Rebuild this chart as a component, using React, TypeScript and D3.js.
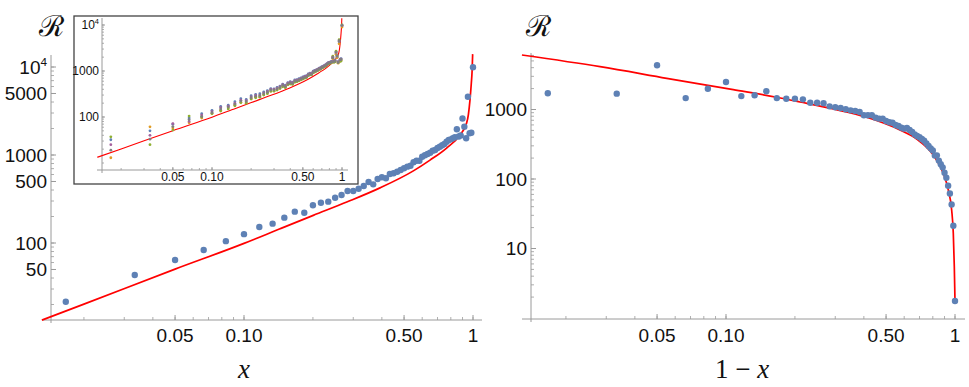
import React from "react";
import * as d3 from "d3";

const W = 969;
const H = 387;

// sample grid: x = k/60
const gridN = 60;
const xGrid = d3.range(1, gridN + 1).map((k) => k / gridN);

// left panel: R against x
const leftPoints = [
  21.5, 43.3, 64.1, 83.3, 105, 126, 152, 166, 194, 227, 221, 268, 287, 295, 327,
  351, 390, 390, 414, 444, 493, 464, 533, 558, 544, 608, 620, 646, 676, 706, 737,
  756, 826, 861, 861, 957, 993, 1026, 1062, 1119, 1140, 1201, 1243, 1290, 1334,
  1417, 1480, 1507, 1548, 1590, 1960, 1620, 1670, 2600, 2100, 1549, 4600, 1766,
  1790, 9940,
];

// right panel: R against 1 - x
const rightPoints = [
  1710, 1690, 4330, 1460, 1990, 2490, 1560, 1600, 1830, 1460, 1430, 1430, 1400,
  1250, 1250, 1230, 1110, 1080, 1050, 1010, 973, 951, 920, 825, 825, 825, 763,
  738, 738, 683, 654, 646, 598, 579, 548, 530, 542, 507, 474, 439, 416, 398, 376,
  356, 326, 298, 276, 258, 217, 219, 184, 163, 147, 123, 104, 80, 62, 43, 21.3,
  1.76,
];

// red theory curves
const leftCurveX = [0.0131, 0.02, 0.05, 0.1, 0.1436, 0.2007, 0.281, 0.3926, 0.549, 0.649, 0.767, 0.877, 0.938, 0.955, 0.97, 0.983, 0.991, 0.9966];
const leftCurveR = [13.3, 20.2, 50.5, 99, 145, 206, 292, 423, 660, 875, 1200, 1690, 2310, 2900, 4200, 6500, 9000, 14000];
const rightCurveU = [0.01285, 0.0282, 0.0551, 0.1076, 0.1665, 0.2105, 0.294, 0.4113, 0.575, 0.68, 0.804, 0.889, 0.935, 0.967, 0.983, 0.993, 1];
const rightCurveR = [6080, 4130, 2810, 1928, 1500, 1282, 1016, 773, 507, 376, 221, 121, 69.5, 35.8, 16.6, 5.5, 1.76];

// inset: individual runs
const insetSeries = [
  [32, 50, 70, 95, 118, 140, 170, 180, 215, 250, 240, 290, 310, 320, 350, 375, 415, 410, 440, 470, 520, 490, 560, 585, 570, 640, 650, 680, 705, 740, 770, 790, 860, 895, 890, 990, 1030, 1060, 1100, 1150, 1180, 1240, 1280, 1330, 1370, 1450, 1510, 1540, 1580, 1620, 1900, 1680, 1720, 2400, 2000, 1600, 4300, 1700, 1850, 9500],
  [13, 61, 58, 75, 95, 120, 140, 158, 180, 210, 205, 250, 270, 280, 310, 335, 370, 372, 395, 425, 470, 445, 510, 535, 520, 585, 595, 620, 650, 680, 710, 730, 800, 830, 835, 925, 960, 995, 1030, 1085, 1105, 1165, 1205, 1250, 1295, 1375, 1440, 1465, 1505, 1545, 1850, 1560, 1600, 2300, 1950, 1480, 3900, 1650, 1700, 9000],
  [37, 25, 52, 105, 100, 118, 135, 150, 175, 205, 200, 245, 262, 270, 300, 322, 360, 365, 385, 415, 455, 435, 500, 520, 510, 570, 585, 610, 640, 670, 700, 720, 790, 820, 825, 915, 950, 985, 1020, 1075, 1095, 1155, 1195, 1240, 1285, 1365, 1425, 1450, 1490, 1530, 2100, 1550, 1580, 2700, 2200, 1520, 4800, 1620, 1650, 10000],
  [25, 40, 72, 80, 110, 130, 160, 172, 200, 232, 228, 275, 295, 300, 335, 360, 400, 398, 425, 455, 505, 475, 545, 570, 555, 620, 632, 658, 690, 720, 750, 770, 840, 875, 875, 970, 1010, 1040, 1080, 1135, 1160, 1220, 1260, 1310, 1355, 1435, 1500, 1525, 1565, 1605, 2000, 1640, 1690, 2550, 2150, 1570, 4500, 1800, 1820, 9800],
  [19, 33, 62, 88, 102, 124, 150, 164, 190, 222, 218, 262, 282, 290, 322, 345, 385, 385, 408, 438, 485, 458, 525, 550, 537, 600, 612, 638, 668, 698, 728, 748, 818, 852, 852, 948, 984, 1016, 1052, 1108, 1130, 1190, 1232, 1278, 1322, 1405, 1468, 1495, 1535, 1578, 1940, 1605, 1655, 2580, 2080, 1535, 4550, 1750, 1780, 9900],
];
const insetColors = ["#5E81B5", "#E19C24", "#8FB032", "#A5609D", "#7F7F7F"];

// ticks
const xTickValues = [0.05, 0.1, 0.5, 1];
const xTickLabels = ["0.05", "0.10", "0.50", "1"];
const leftYTickValues = [50, 100, 500, 1000, 5000, 10000];
const leftYTickLabels = ["50", "100", "500", "1000", "5000", "10^4"];
const rightYTickValues = [10, 100, 1000];
const rightYTickLabels = ["10", "100", "1000"];
const insetYTickValues = [100, 1000, 10000];
const insetYTickLabels = ["100", "1000", "10^4"];

const leftX = d3.scaleLog().domain([0.01, 1]).range([15, 473]);
const leftY = d3.scaleLog().domain([10, 10000]).range([331, 67]);
const rightX = d3.scaleLog().domain([0.01, 1]).range([497, 955]);
const rightY = d3.scaleLog().domain([1, 10000]).range([318, 40]);
const insetX = d3.scaleLog().domain([0.01, 1]).range([82, 342]);
const insetY = d3.scaleLog().domain([10, 10000]).range([163, 25]);

const tickFont = "'Liberation Sans', Arial, sans-serif";
const axisColor = "#9a9a9a";

function Label({ text, x, y, size, anchor }) {
  if (text.includes("^")) {
    const [b, e] = text.split("^");
    return (
      <text x={x} y={y} fontSize={size} textAnchor={anchor} fontFamily={tickFont} fill="#111">
        {b}
        <tspan dy={-size * 0.42} fontSize={size * 0.62}>{e}</tspan>
      </text>
    );
  }
  return (
    <text x={x} y={y} fontSize={size} textAnchor={anchor} fontFamily={tickFont} fill="#111">
      {text}
    </text>
  );
}

function Axes({ x, y, x0, y0, xEnd, yEnd, xTicks, xLabels, yTicks, yLabels, size, major, minor, xLabelY, yLabelX }) {
  const minorX = x.ticks().filter((t) => x(t) > x0 + 1 && x(t) <= xEnd[1]);
  const minorY = y.ticks().filter((t) => y(t) < y0 - 1 && y(t) >= yEnd[0]);
  return (
    <g>
      <line x1={xEnd[0]} x2={xEnd[1]} y1={y0} y2={y0} stroke={axisColor} strokeWidth={1} />
      <line x1={x0} x2={x0} y1={yEnd[0]} y2={yEnd[1]} stroke={axisColor} strokeWidth={1} />
      {minorX.map((t, i) => (
        <line key={"mx" + i} x1={x(t)} x2={x(t)} y1={y0} y2={y0 - minor} stroke={axisColor} strokeWidth={0.8} />
      ))}
      {minorY.map((t, i) => (
        <line key={"my" + i} x1={x0} x2={x0 + minor} y1={y(t)} y2={y(t)} stroke={axisColor} strokeWidth={0.8} />
      ))}
      {xTicks.map((t, i) => (
        <g key={"tx" + i}>
          <line x1={x(t)} x2={x(t)} y1={y0} y2={y0 - major} stroke={axisColor} strokeWidth={1} />
          <Label text={xLabels[i]} x={x(t)} y={xLabelY} size={size} anchor="middle" />
        </g>
      ))}
      {yTicks.map((t, i) => (
        <g key={"ty" + i}>
          <line x1={x0} x2={x0 + major} y1={y(t)} y2={y(t)} stroke={axisColor} strokeWidth={1} />
          <Label text={yLabels[i]} x={yLabelX} y={y(t) + size * 0.36} size={size} anchor="end" />
        </g>
      ))}
    </g>
  );
}

export default function App() {
  const leftLine = d3
    .line<number>()
    .x((_, i) => leftX(leftCurveX[i]))
    .y((d) => leftY(d))
    .curve(d3.curveMonotoneX);
  const insetLine = d3
    .line<number>()
    .x((_, i) => insetX(leftCurveX[i]))
    .y((d) => insetY(d))
    .curve(d3.curveMonotoneY);
  const rightLine = d3
    .line<number>()
    .x((_, i) => rightX(rightCurveU[i]))
    .y((d) => rightY(d))
    .curve(d3.curveMonotoneX);

  return (
    <svg width={W} height={H} style={{ position: "absolute", left: 0, top: 0, background: "#fff" }}>
      <defs>
        <clipPath id="insetClip">
          <rect x={75} y={17} width={282} height={166} />
        </clipPath>
      </defs>

      {/* left panel */}
      <Axes
        x={leftX} y={leftY} x0={51} y0={320} xEnd={[43, 482]} yEnd={[55, 323]}
        xTicks={xTickValues} xLabels={xTickLabels} yTicks={leftYTickValues} yLabels={leftYTickLabels}
        size={19} major={5} minor={3} xLabelY={342} yLabelX={47}
      />
      <path d={leftLine(leftCurveR) || ""} fill="none" stroke="#ff0000" strokeWidth={1.7} />
      {leftPoints.map((v, i) => (
        <circle key={"lp" + i} cx={leftX(xGrid[i])} cy={leftY(v)} r={3.2} fill="#5E81B5" />
      ))}
      <text x={51} y={36} fontSize={29} textAnchor="middle" fontFamily="'DejaVu Serif', serif" fill="#111">ℛ</text>
      <text x={244} y={378} fontSize={27} textAnchor="middle" fontFamily="'Liberation Serif', 'Times New Roman', serif" fontStyle="italic" fill="#111">x</text>

      {/* inset */}
      <rect x={74} y={16} width={284} height={168} fill="#fff" stroke="#444" strokeWidth={1.3} />
      <Axes
        x={insetX} y={insetY} x0={102} y0={170} xEnd={[97, 348]} yEnd={[18, 173]}
        xTicks={xTickValues} xLabels={xTickLabels} yTicks={insetYTickValues} yLabels={insetYTickLabels}
        size={12} major={3} minor={2} xLabelY={181} yLabelX={99}
      />
      <g clipPath="url(#insetClip)">
        <path d={insetLine(leftCurveR) || ""} fill="none" stroke="#ff0000" strokeWidth={1.1} />
        {insetSeries.map((s, si) =>
          s.map((v, i) => (
            <circle key={"is" + si + "-" + i} cx={insetX(xGrid[i])} cy={insetY(v)} r={1.4} fill={insetColors[si]} />
          ))
        )}
      </g>

      {/* right panel */}
      <Axes
        x={rightX} y={rightY} x0={531} y0={319} xEnd={[522, 965]} yEnd={[53, 322]}
        xTicks={xTickValues} xLabels={xTickLabels} yTicks={rightYTickValues} yLabels={rightYTickLabels}
        size={19} major={5} minor={3} xLabelY={342} yLabelX={527}
      />
      <path d={rightLine(rightCurveR) || ""} fill="none" stroke="#ff0000" strokeWidth={1.7} />
      {rightPoints.map((v, i) => (
        <circle key={"rp" + i} cx={rightX(xGrid[i])} cy={rightY(v)} r={3.2} fill="#5E81B5" />
      ))}
      <text x={538} y={36} fontSize={29} textAnchor="middle" fontFamily="'DejaVu Serif', serif" fill="#111">ℛ</text>
      <text x={742} y={378} fontSize={27} textAnchor="middle" fontFamily="'Liberation Serif', 'Times New Roman', serif" fill="#111">
        1 − <tspan fontStyle="italic">x</tspan>
      </text>
    </svg>
  );
}
